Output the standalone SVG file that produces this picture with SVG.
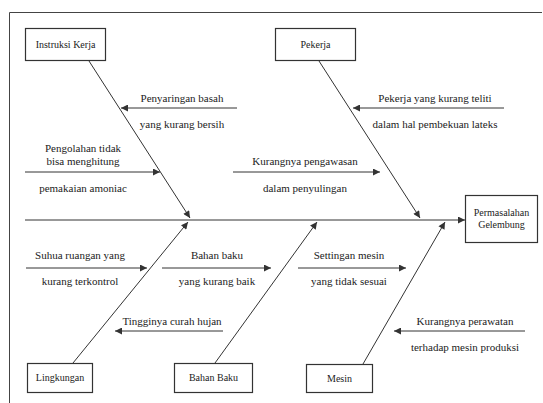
<svg xmlns="http://www.w3.org/2000/svg" width="543" height="403" viewBox="0 0 543 403">
<defs>
<style>
.box{fill:#fff;stroke:#333;stroke-width:1.2}
.ln{stroke:#333;stroke-width:1;fill:none}
.t{font-family:"Liberation Serif","Times New Roman",serif;font-size:11px;fill:#222;text-anchor:middle}
.bt{font-family:"Liberation Serif","Times New Roman",serif;font-size:10px;fill:#222;text-anchor:middle}
</style>
<marker id="ah" viewBox="0 0 10 10" refX="10" refY="5" markerWidth="9" markerHeight="7" markerUnits="userSpaceOnUse" orient="auto">
<path d="M0,0 L10,5 L0,10 Z" fill="#333"/>
</marker>
</defs>
<rect width="543" height="403" fill="#fff"/>
<path d="M9.5,403 V12.5 H542" stroke="#444" stroke-width="1" fill="none"/>

<g id="connectors">
<line class="ln" x1="25" y1="220" x2="465" y2="220" marker-end="url(#ah)"/>
<line class="ln" x1="89" y1="61" x2="190" y2="218" marker-end="url(#ah)"/>
<line class="ln" x1="319" y1="61" x2="420" y2="218" marker-end="url(#ah)"/>
<line class="ln" x1="73" y1="363" x2="188" y2="222" marker-end="url(#ah)"/>
<line class="ln" x1="215" y1="363" x2="317" y2="222" marker-end="url(#ah)"/>
<line class="ln" x1="363" y1="364" x2="445" y2="222" marker-end="url(#ah)"/>
<line class="ln" x1="237" y1="108" x2="121" y2="108" marker-end="url(#ah)"/>
<line class="ln" x1="25" y1="172" x2="160" y2="172" marker-end="url(#ah)"/>
<line class="ln" x1="504" y1="108" x2="353" y2="108" marker-end="url(#ah)"/>
<line class="ln" x1="233" y1="172" x2="380" y2="172" marker-end="url(#ah)"/>
<line class="ln" x1="26" y1="268" x2="147" y2="268" marker-end="url(#ah)"/>
<line class="ln" x1="162" y1="268" x2="271" y2="268" marker-end="url(#ah)"/>
<line class="ln" x1="298" y1="268" x2="406" y2="268" marker-end="url(#ah)"/>
<line class="ln" x1="223" y1="331" x2="115" y2="331" marker-end="url(#ah)"/>
<line class="ln" x1="525" y1="331" x2="394" y2="331" marker-end="url(#ah)"/>
</g>

<g id="labels">
<text class="t" x="182" y="102">Penyaringan basah</text>
<text class="t" x="182" y="128">yang kurang bersih</text>
<text class="t" x="83" y="152">Pengolahan tidak</text>
<text class="t" x="83" y="165">bisa menghitung</text>
<text class="t" x="83" y="192">pemakaian amoniac</text>
<text class="t" x="435" y="102">Pekerja yang kurang teliti</text>
<text class="t" x="435" y="128">dalam hal pembekuan lateks</text>
<text class="t" x="305" y="165">Kurangnya pengawasan</text>
<text class="t" x="305" y="192">dalam penyulingan</text>
<text class="t" x="80" y="259">Suhua ruangan yang</text>
<text class="t" x="80" y="285">kurang terkontrol</text>
<text class="t" x="217" y="259">Bahan baku</text>
<text class="t" x="217" y="285">yang kurang baik</text>
<text class="t" x="349" y="259">Settingan mesin</text>
<text class="t" x="349" y="285">yang tidak sesuai</text>
<text class="t" x="172" y="325">Tingginya curah hujan</text>
<text class="t" x="465" y="325">Kurangnya perawatan</text>
<text class="t" x="465" y="351">terhadap mesin produksi</text>
</g>

<g id="instruksi-kerja">
<rect class="box" x="25.5" y="28.5" width="80" height="32"/>
<text class="bt" x="65.5" y="48">Instruksi Kerja</text>
</g>
<g id="pekerja">
<rect class="box" x="275.5" y="28.5" width="80" height="32"/>
<text class="bt" x="315.5" y="48">Pekerja</text>
</g>
<g id="permasalahan-gelembung">
<rect class="box" x="465.5" y="195.5" width="72" height="47"/>
<text class="bt" x="501.5" y="216">Permasalahan</text>
<text class="bt" x="501.5" y="228">Gelembung</text>
</g>
<g id="lingkungan">
<rect class="box" x="27.5" y="363.5" width="65" height="29"/>
<text class="bt" x="60" y="381">Lingkungan</text>
</g>
<g id="bahan-baku">
<rect class="box" x="174.5" y="363.5" width="78" height="29"/>
<text class="bt" x="213.5" y="381">Bahan Baku</text>
</g>
<g id="mesin">
<rect class="box" x="306.5" y="364.5" width="66" height="28"/>
<text class="bt" x="339.5" y="382">Mesin</text>
</g>
</svg>
